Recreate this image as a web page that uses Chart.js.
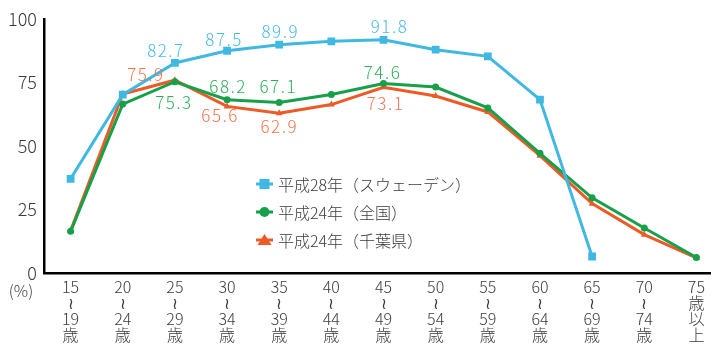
<!DOCTYPE html>
<html lang="ja">
<head>
<meta charset="utf-8">
<script src="https://cdn.jsdelivr.net/npm/chart.js@4/dist/chart.umd.min.js"></script>
<style>
  html, body { margin: 0; padding: 0; background: #fff; }
  #wrap { width: 716px; height: 345px; position: relative; }
</style>
</head>
<body>
<div id="wrap"><canvas id="c" width="716" height="345"></canvas></div>
<script>
// Age groups (multi-line tick labels)
const ageGroups = [
  ['15', '≀', '19', '歳'], ['20', '≀', '24', '歳'], ['25', '≀', '29', '歳'],
  ['30', '≀', '34', '歳'], ['35', '≀', '39', '歳'], ['40', '≀', '44', '歳'],
  ['45', '≀', '49', '歳'], ['50', '≀', '54', '歳'], ['55', '≀', '59', '歳'],
  ['60', '≀', '64', '歳'], ['65', '≀', '69', '歳'], ['70', '≀', '74', '歳'],
  ['75', '歳', '以', '上']
];

// Labour force participation rate of women (%)
const sweden2016 = [37.1, 70.2, 82.7, 87.5, 89.9, 91.2, 91.8, 87.9, 85.3, 68.3, 6.5, null, null];
const japan2012  = [16.4, 66.5, 75.3, 68.2, 67.1, 70.3, 74.6, 73.2, 65.0, 47.1, 29.6, 17.7, 6.1];
const chiba2012  = [16.6, 70.5, 75.9, 65.6, 62.9, 66.3, 73.1, 69.7, 63.4, 46.2, 27.3, 15.1, 6.0];

const seriesNames = ['平成28年（スウェーデン）', '平成24年（全国）', '平成24年（千葉県）'];
const yTicks = [0, 25, 50, 75, 100];

// Indices whose values are printed next to the point
const labelledSweden = [2, 3, 4, 6];
const labelledJapan  = [2, 3, 4, 6];
const labelledChiba  = [2, 3, 4, 6];

const COLORS = {
  sweden: '#3FB8E2', swedenText: '#4ABBE3',
  japan: '#17A04A',  japanText: '#2BAE58',
  chiba: '#EE5A26',  chibaText: '#F3724A'
};
const TEXT = '#3a3a3a';
const FONT = '"Noto Sans CJK JP", "Noto Sans", sans-serif';

const toPoints = arr => arr.map((v, i) => ({ x: i, y: v })).filter(p => p.y !== null);

// Offsets of the printed values relative to their points
const labelOffsets = [
  { 2: [-10, -12], 3: [-4, -11], 4: [0, -13], 6: [5, -13] },
  { 2: [-2, 21], 3: [0, -13], 4: [-2, -16], 6: [-2, -11] },
  { 2: [-30, -6], 3: [-8, 9], 4: [-1, 13], 6: [1, 16] }
];
const labelledIdx = [labelledSweden, labelledJapan, labelledChiba];
const labelColors = [COLORS.swedenText, COLORS.japanText, COLORS.chibaText];

const valueLabels = {
  id: 'valueLabels',
  afterDatasetsDraw(chart) {
    const ctx = chart.ctx;
    ctx.save();
    ctx.font = '300 17px ' + FONT;
    ctx.letterSpacing = '1.5px';
    ctx.textAlign = 'center';
    ctx.textBaseline = 'middle';
    chart.data.datasets.forEach((ds, di) => {
      const meta = chart.getDatasetMeta(di);
      labelledIdx[di].forEach(idx => {
        const k = ds.data.findIndex(p => p.x === idx);
        const el = meta.data[k];
        if (!el) return;
        const off = labelOffsets[di][idx] || [0, -12];
        ctx.fillStyle = labelColors[di];
        ctx.fillText(ds.data[k].y.toFixed(1), el.x + off[0] + 1, el.y + off[1]);
      });
    });
    ctx.restore();
  }
};

// Legend inside the plot, plus the unit label
const innerLegend = {
  id: 'innerLegend',
  afterDraw(chart) {
    const ctx = chart.ctx;
    ctx.save();
    const x0 = 256, x1 = 273, tx = 278;
    const rows = [184, 212, 240];
    chart.data.datasets.forEach((ds, i) => {
      const y = rows[i];
      const c = ds.borderColor;
      ctx.strokeStyle = c;
      ctx.fillStyle = c;
      ctx.lineWidth = 3;
      ctx.beginPath();
      ctx.moveTo(x0, y);
      ctx.lineTo(x1, y);
      ctx.stroke();
      const cx = (x0 + x1) / 2;
      ctx.beginPath();
      if (ds.pointStyle === 'rect') {
        ctx.rect(cx - 5, y - 5, 10, 10);
      } else if (ds.pointStyle === 'circle') {
        ctx.arc(cx, y, 5, 0, Math.PI * 2);
      } else {
        ctx.moveTo(cx, y - 6);
        ctx.lineTo(cx + 7, y + 5);
        ctx.lineTo(cx - 7, y + 5);
        ctx.closePath();
      }
      ctx.fill();
      ctx.fillStyle = TEXT;
      ctx.font = '300 16px ' + FONT;
      ctx.textAlign = 'left';
      ctx.textBaseline = 'middle';
      ctx.fillText(ds.label, tx, y + 1);
    });
    ctx.font = '300 16px ' + FONT;
    ctx.textAlign = 'center';
    ctx.textBaseline = 'middle';
    ctx.fillStyle = TEXT;
    ctx.fillText('(%)', 21, 291);
    ctx.restore();
  }
};

new Chart(document.getElementById('c'), {
  type: 'line',
  data: {
    datasets: [
      {
        label: seriesNames[0], data: toPoints(sweden2016),
        borderColor: COLORS.sweden, backgroundColor: COLORS.sweden,
        borderWidth: 3, pointStyle: 'rect', pointRadius: 5.5, pointBorderWidth: 0
      },
      {
        label: seriesNames[1], data: toPoints(japan2012),
        borderColor: COLORS.japan, backgroundColor: COLORS.japan,
        borderWidth: 3, pointStyle: 'circle', pointRadius: 3.5, pointBorderWidth: 0
      },
      {
        label: seriesNames[2], data: toPoints(chiba2012),
        borderColor: COLORS.chiba, backgroundColor: COLORS.chiba,
        borderWidth: 3, pointStyle: 'triangle', pointRadius: 4, pointBorderWidth: 0
      }
    ]
  },
  options: {
    responsive: false,
    animation: false,
    devicePixelRatio: 1,
    layout: { padding: { top: 19, right: 0, bottom: 0, left: 0 } },
    plugins: { legend: { display: false }, tooltip: { enabled: false } },
    scales: {
      x: {
        type: 'linear',
        min: -0.51,
        max: 12.27,
        afterBuildTicks: s => { s.ticks = ageGroups.map((_, i) => ({ value: i })); },
        afterFit: s => { s.height = 72; },
        grid: { display: false, drawTicks: false },
        border: { display: true, color: '#000', width: 2.5 },
        ticks: {
          autoSkip: false, maxRotation: 0, padding: 6,
          color: TEXT,
          font: { family: FONT, size: 16, weight: '300', lineHeight: '16px' },
          callback: v => ageGroups[v]
        }
      },
      y: {
        min: 0,
        max: 100,
        afterBuildTicks: s => { s.ticks = yTicks.map(v => ({ value: v })); },
        afterFit: s => { s.width = 44; },
        grid: { display: false, drawTicks: false },
        border: { display: true, color: '#000', width: 2.5 },
        ticks: {
          padding: 7,
          color: TEXT,
          font: { family: FONT, size: 18, weight: '300' }
        }
      }
    }
  },
  plugins: [valueLabels, innerLegend]
});
</script>
</body>
</html>
